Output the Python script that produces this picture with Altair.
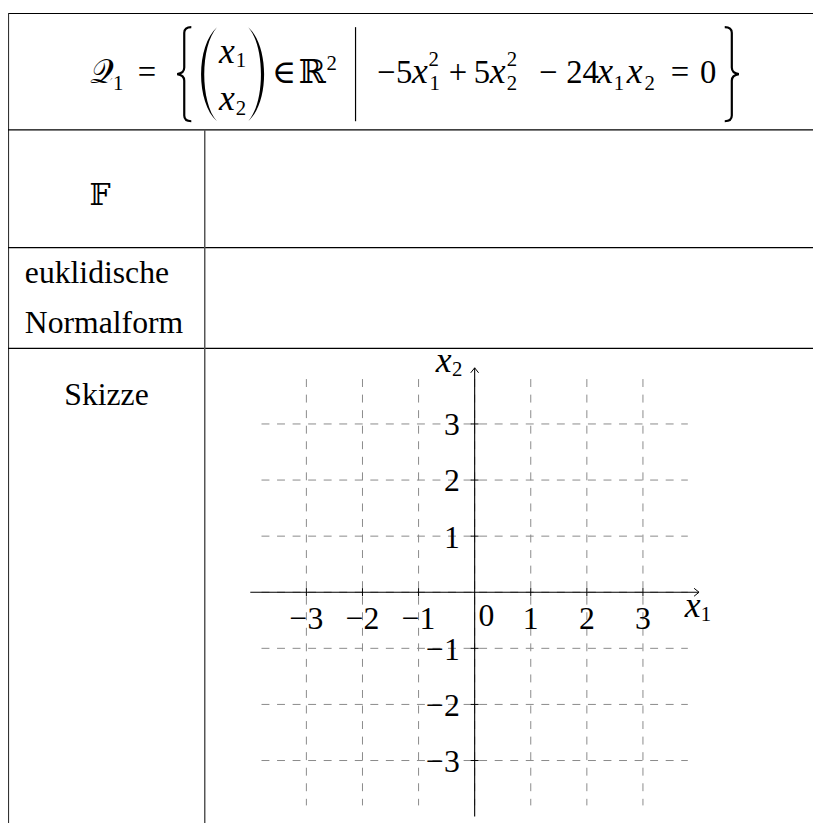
import altair as alt
import pandas as pd

# ---------------- data ----------------
GRID_VALUES = [-3, -2, -1, 0, 1, 2, 3]
TICK_VALUES = [-3, -2, -1, 1, 2, 3]
X_TICK_LABELS = ["−3", "−2", "−1", "1", "2", "3"]
Y_TICK_LABELS = ["−3", "−2", "−1", "1", "2", "3"]
ORIGIN_LABEL = "0"
GRID_EXTENT = 3.8
AXIS_EXTENT = 4.0
ROW_HEADERS = ["𝔽", "euklidische", "Normalform", "Skizze"]

# ---------------- layout ----------------
M = 8
W, H = 813, 815
OX, OY = 479.3, 594.0
UNIT = 56.65
SERIF = "Liberation Serif"
MATH = "DejaVu Serif"
SIZE = 33
SUB = 21
XSIZE = 36
LBL = 32
GRID_COLOR = "#8a8a8a"

xs = alt.Scale(domain=[(M - OX) / UNIT, (M + W - OX) / UNIT], nice=False, zero=False)
ys = alt.Scale(domain=[(OY - (M + H)) / UNIT, (OY - M) / UNIT], nice=False, zero=False)

ONE = pd.DataFrame({"k": [0]})


def XD(v):
    return alt.XDatum(v, type="quantitative", scale=xs, axis=None)


def YD(v):
    return alt.YDatum(v, type="quantitative", scale=ys, axis=None)


layers = []

# ---- grid ----
layers.append(
    alt.Chart(pd.DataFrame({"v": GRID_VALUES}))
    .mark_rule(color=GRID_COLOR, strokeWidth=1, strokeDash=[8, 7.7])
    .encode(x=alt.X("v:Q", scale=xs, axis=None), y=YD(GRID_EXTENT), y2=alt.Y2Datum(-GRID_EXTENT))
)
layers.append(
    alt.Chart(pd.DataFrame({"v": GRID_VALUES}))
    .mark_rule(color=GRID_COLOR, strokeWidth=1, strokeDash=[8, 7.7])
    .encode(y=alt.Y("v:Q", scale=ys, axis=None), x=XD(-GRID_EXTENT), x2=alt.X2Datum(GRID_EXTENT))
)

# ---- axes ----
layers.append(
    alt.Chart(ONE).mark_rule(color="black", strokeWidth=1.1)
    .encode(x=XD(-AXIS_EXTENT), x2=alt.X2Datum(AXIS_EXTENT), y=YD(0))
)
layers.append(
    alt.Chart(ONE).mark_rule(color="black", strokeWidth=1.1)
    .encode(y=YD(-AXIS_EXTENT), y2=alt.Y2Datum(AXIS_EXTENT), x=XD(0))
)
ARROW = "M-1,-0.8L0,0L-1,0.8"
layers.append(
    alt.Chart(ONE).mark_point(shape=ARROW, size=100, filled=False, color="black", strokeWidth=1, opacity=1)
    .encode(x=XD(AXIS_EXTENT), y=YD(0))
)
layers.append(
    alt.Chart(ONE).mark_point(shape=ARROW, size=100, filled=False, color="black", strokeWidth=1, opacity=1, angle=270)
    .encode(x=XD(0), y=YD(AXIS_EXTENT))
)
layers.append(
    alt.Chart(pd.DataFrame({"v": TICK_VALUES}))
    .mark_point(shape="M0,-1L0,1", size=64, filled=False, color="black", strokeWidth=1, opacity=1)
    .encode(x=alt.X("v:Q", scale=xs, axis=None), y=YD(0))
)
layers.append(
    alt.Chart(pd.DataFrame({"v": TICK_VALUES}))
    .mark_point(shape="M-1,0L1,0", size=64, filled=False, color="black", strokeWidth=1, opacity=1)
    .encode(y=alt.Y("v:Q", scale=ys, axis=None), x=XD(0))
)
layers.append(
    alt.Chart(pd.DataFrame({"v": TICK_VALUES, "t": X_TICK_LABELS}))
    .mark_text(font=SERIF, fontSize=LBL, align="center", baseline="alphabetic", dy=37, color="black")
    .encode(x=alt.X("v:Q", scale=xs, axis=None), y=YD(0), text="t:N")
)
layers.append(
    alt.Chart(pd.DataFrame({"v": TICK_VALUES, "t": Y_TICK_LABELS}))
    .mark_text(font=SERIF, fontSize=LBL, align="right", baseline="alphabetic", dx=-15, dy=11.5, color="black")
    .encode(y=alt.Y("v:Q", scale=ys, axis=None), x=XD(0), text="t:N")
)
layers.append(
    alt.Chart(ONE)
    .mark_text(text=ORIGIN_LABEL, font=SERIF, fontSize=LBL, align="left", baseline="alphabetic", dx=4, dy=34, color="black")
    .encode(x=XD(0), y=YD(0))
)
layers.append(
    alt.Chart(ONE).mark_text(text="x", font=SERIF, fontStyle="italic", fontSize=XSIZE, align="center",
                             baseline="alphabetic", dx=-6.5, dy=24.5, color="black")
    .encode(x=XD(AXIS_EXTENT), y=YD(0))
)
layers.append(
    alt.Chart(ONE).mark_text(text="1", font=SERIF, fontSize=SUB, align="center",
                             baseline="alphabetic", dx=7, dy=29, color="black")
    .encode(x=XD(AXIS_EXTENT), y=YD(0))
)
layers.append(
    alt.Chart(ONE).mark_text(text="x", font=SERIF, fontStyle="italic", fontSize=XSIZE, align="center",
                             baseline="alphabetic", dx=-31.3, dy=4.3, color="black")
    .encode(x=XD(0), y=YD(AXIS_EXTENT))
)
layers.append(
    alt.Chart(ONE).mark_text(text="2", font=SERIF, fontSize=SUB, align="center",
                             baseline="alphabetic", dx=-17.6, dy=8.6, color="black")
    .encode(x=XD(0), y=YD(AXIS_EXTENT))
)


# ---- table (pixel layout) ----
def hline(py, x0, x1, color="black", w=1.2):
    return alt.Chart(ONE).mark_rule(color=color, strokeWidth=w).encode(
        x=alt.value(x0 - M), x2=alt.value(x1 - M), y=alt.value(py - M))


def vline(px, y0, y1, color="black", w=1.2):
    return alt.Chart(ONE).mark_rule(color=color, strokeWidth=w).encode(
        x=alt.value(px - M), y=alt.value(y0 - M), y2=alt.value(y1 - M))


def label(text, px, py, size=SIZE, italic=False, align="center", font=SERIF):
    return alt.Chart(ONE).mark_text(
        text=text, align=align, baseline="alphabetic", fontSize=size, font=font,
        fontStyle="italic" if italic else "normal", color="black"
    ).encode(x=alt.value(px - M), y=alt.value(py - M))


def glyph(path, px, py, height, filled=True, w=1.8):
    if filled:
        mk = alt.Chart(ONE).mark_point(shape=path, size=height * height, filled=True,
                                       fill="black", strokeWidth=0, opacity=1)
    else:
        mk = alt.Chart(ONE).mark_point(shape=path, size=height * height, filled=False,
                                       color="black", strokeWidth=w, opacity=1)
    return mk.encode(x=alt.value(px - M), y=alt.value(py - M))


layers += [
    hline(9.5, 8, 821),
    vline(8.5, 9, 831, color="#333"),
    hline(127, 8, 821),
    hline(246, 8, 821),
    hline(347.7, 8, 821),
    vline(206.7, 127, 831, color="#555", w=1.5),
]

layers += [
    label(ROW_HEADERS[0], 101, 203, size=30, font=MATH),
    label(ROW_HEADERS[1], 25, 282, size=LBL, align="left"),
    label(ROW_HEADERS[2], 25, 332, size=LBL, align="left"),
    label(ROW_HEADERS[3], 107.5, 405, size=LBL),
]

BRACE_L = "M0.15,-1Q0,-1 0,-0.88L0,-0.14Q0,-0.02 -0.15,0Q0,0.02 0,0.14L0,0.88Q0,1 0.15,1"
BRACE_R = "M-0.15,-1Q0,-1 0,-0.88L0,-0.14Q0,-0.02 0.15,0Q0,0.02 0,0.14L0,0.88Q0,1 -0.15,1"
PAREN_L = "M0.17,-1C-0.28,-0.6 -0.28,0.6 0.17,1C-0.19,0.6 -0.19,-0.6 0.17,-1Z"
PAREN_R = "M-0.17,-1C0.28,-0.6 0.28,0.6 -0.17,1C0.19,0.6 0.19,-0.6 -0.17,-1Z"
DY = 70.8
DH = 95
layers += [
    glyph(BRACE_L, 186, DY, DH, filled=False, w=2.2),
    glyph(PAREN_L, 211, DY, DH),
    glyph(PAREN_R, 258.7, DY, DH),
    glyph(BRACE_R, 739, DY, DH, filled=False, w=2.2),
    vline(359, 23.3, 118.3, w=1.2),
]

BL, SUP_BL, SUB_BL = 80, 62.5, 87
layers += [
    label("𝒬", 103, BL, font=MATH),
    label("1", 119.3, SUB_BL, size=SUB),
    label("=", 148.3, BL),
    label("x", 229, 59.3, size=XSIZE, italic=True),
    label("1", 243.3, 64, size=SUB),
    label("x", 229, 107.3, size=XSIZE, italic=True),
    label("2", 243.3, 112, size=SUB),
    label("∈", 286.7, BL, font=MATH),
    label("ℝ", 315, BL, font=MATH),
    label("2", 335, 67, size=SUB),
    label("−", 390, BL),
    label("5", 408, BL),
    label("x", 424, BL, size=XSIZE, italic=True),
    label("2", 438, SUP_BL, size=SUB),
    label("1", 439, SUB_BL, size=SUB),
    label("+", 462.5, BL),
    label("5", 486.5, BL),
    label("x", 502.5, BL, size=XSIZE, italic=True),
    label("2", 517, SUP_BL, size=SUB),
    label("2", 517, SUB_BL, size=SUB),
    label("−", 553.5, BL),
    label("24", 588.3, BL),
    label("x", 611, BL, size=XSIZE, italic=True),
    label("1", 625, SUB_BL, size=SUB),
    label("x", 641, BL, size=XSIZE, italic=True),
    label("2", 656, SUB_BL, size=SUB),
    label("=", 686.7, BL),
    label("0", 715, BL),
]

chart = (
    alt.layer(*layers)
    .properties(width=W, height=H, padding=0, autosize=alt.AutoSizeParams(type="none"),
                background="white")
    .configure_view(strokeWidth=0)
)

chart.save("out.html", embed_options={"renderer": "svg", "actions": False})
